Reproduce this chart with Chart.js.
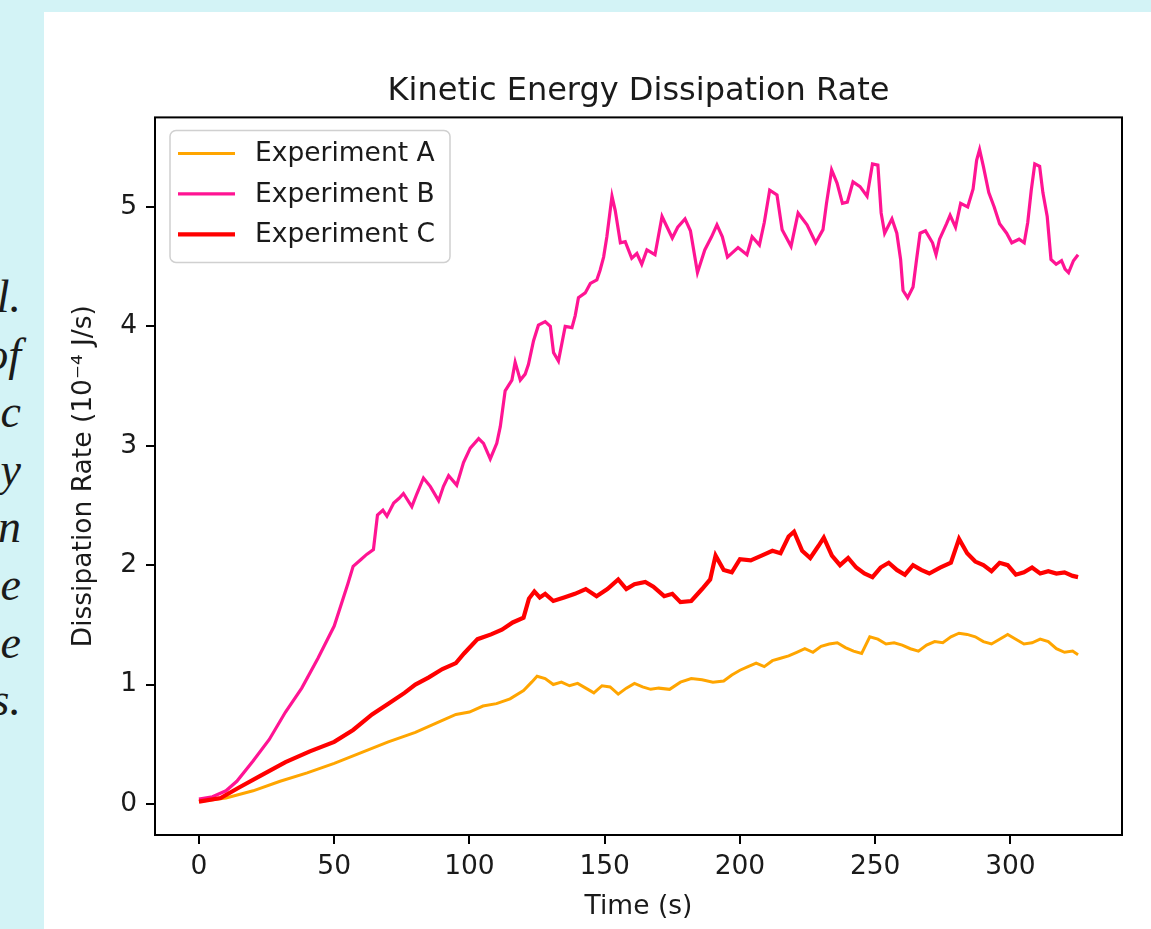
<!DOCTYPE html>
<html>
<head>
<meta charset="utf-8">
<script src="https://cdn.jsdelivr.net/npm/chart.js@4.4.0/dist/chart.umd.min.js"></script>
<style>
  html, body { margin: 0; padding: 0; width: 1151px; height: 929px; overflow: hidden; background: #d3f3f6; }
  #caption {
    position: absolute; right: 1130px; top: 268px; width: 420px;
    text-align: right; white-space: nowrap; color: #1a1a1a;
    font: italic 46px/57.6px "Liberation Serif", serif;
  }
  #panel { position: absolute; left: 44px; top: 12px; right: 0; bottom: 0; background: #fff; }
  #rateChart { position: absolute; left: 0; top: 0; }
</style>
</head>
<body>
<div id="caption">
  <div>et al.</div>
  <div>of</div>
  <div>dynamic</div>
  <div>energy</div>
  <div>dissipation</div>
  <div>the</div>
  <div>three</div>
  <div>experiments.</div>
</div>
<div id="panel"></div>
<canvas id="rateChart" width="1151" height="929"></canvas>

<script>
// === DATA ===
const labels = ["Experiment A", "Experiment B", "Experiment C"];

const timeA = [0, 10, 20, 30, 40, 50, 60, 70, 80, 90, 95, 100, 105, 110, 115, 120, 123, 125, 128, 131,
  134, 137, 140, 143, 146, 149, 152, 155, 158, 161, 164, 167, 170, 174, 178, 182, 186, 190, 194, 197,
  200, 203, 206, 209, 212, 215, 218, 221, 224, 227, 230, 233, 236, 239, 242, 245, 248, 251, 254, 257,
  260, 263, 266, 269, 272, 275, 278, 281, 284, 287, 290, 293, 296, 299, 302, 305, 308, 311, 314, 317,
  320, 323, 325];
const rateA = [0.02, 0.05, 0.11, 0.19, 0.26, 0.34, 0.43, 0.52, 0.60, 0.70, 0.75, 0.77, 0.82, 0.84, 0.88, 0.95, 1.02, 1.07, 1.05, 1.00,
  1.02, 0.99, 1.01, 0.97, 0.93, 0.99, 0.98, 0.92, 0.97, 1.01, 0.98, 0.96, 0.97, 0.96, 1.02, 1.05, 1.04, 1.02, 1.03, 1.08,
  1.12, 1.15, 1.18, 1.15, 1.20, 1.22, 1.24, 1.27, 1.30, 1.27, 1.32, 1.34, 1.35, 1.31, 1.28, 1.26, 1.40, 1.38, 1.34, 1.35,
  1.33, 1.30, 1.28, 1.33, 1.36, 1.35, 1.40, 1.43, 1.42, 1.40, 1.36, 1.34, 1.38, 1.42, 1.38, 1.34, 1.35, 1.38, 1.36, 1.30,
  1.27, 1.28, 1.25];

const timeB = [0, 5, 10, 14, 20, 26, 32, 38, 44, 50, 53, 55, 57, 60, 62, 64.5, 66, 68, 69.5, 72,
  74, 75.6, 78.7, 80.6, 83, 85.5, 88.6, 90.4, 92.3, 95.3, 97.8, 100.3, 103.4, 105.2, 107.7, 110.1, 111.4, 113.2, 115.7, 116.9,
  118.8, 120.6, 121.8, 123.7, 125.5, 128, 129.9, 131.1, 132.9, 135.4, 137.9, 139.1, 140.3, 142.8, 144.7, 147.1, 148.3, 149.6, 150.8, 152.7,
  153.9, 155.8, 157.6, 160, 161.9, 163.7, 165.6, 168.6, 171.2, 175, 177, 179.7, 181.7, 184.3, 187, 189.5, 191.5, 193.5, 195.4, 199.3,
  202.6, 204.5, 207.2, 209, 211, 213.7, 215.6, 218.9, 221.5, 224.8, 228, 230.7, 232, 233.9, 235.9, 237.9, 239.7, 241.8, 244.4, 247,
  249, 251, 252.2, 253.5, 256.2, 258, 259.4, 260.3, 262, 264, 265.3, 266.6, 268.6, 271.2, 272.5, 273.8, 276.4, 277.7, 279.7, 281.6,
  284.2, 286.2, 287.5, 288.6, 290, 292, 294, 296, 298.6, 300.5, 303.2, 305.1, 306.4, 307.7, 309, 310.8, 312, 313.6, 315, 316.9,
  318.9, 320.2, 321.5, 323.3, 325];
const rateB = [0.04, 0.06, 0.11, 0.19, 0.36, 0.54, 0.77, 0.97, 1.22, 1.49, 1.70, 1.84, 1.99, 2.05, 2.09, 2.13, 2.42, 2.46, 2.41, 2.52,
  2.56, 2.60, 2.49, 2.60, 2.73, 2.66, 2.54, 2.66, 2.75, 2.67, 2.86, 2.98, 3.06, 3.02, 2.89, 3.02, 3.16, 3.46, 3.55, 3.70,
  3.55, 3.60, 3.68, 3.88, 4.01, 4.04, 4.00, 3.78, 3.71, 4.00, 3.99, 4.09, 4.24, 4.28, 4.36, 4.39, 4.47, 4.58, 4.75, 5.09,
  4.97, 4.70, 4.71, 4.57, 4.61, 4.52, 4.64, 4.60, 4.92, 4.74, 4.83, 4.90, 4.80, 4.45, 4.64, 4.75, 4.85, 4.75, 4.58, 4.66,
  4.60, 4.75, 4.68, 4.87, 5.14, 5.10, 4.81, 4.67, 4.95, 4.85, 4.70, 4.81, 5.03, 5.31, 5.20, 5.03, 5.04, 5.21, 5.17, 5.09,
  5.36, 5.35, 4.95, 4.78, 4.90, 4.78, 4.56, 4.30, 4.24, 4.33, 4.56, 4.78, 4.80, 4.70, 4.60, 4.73, 4.86, 4.93, 4.83, 5.03,
  5.00, 5.15, 5.39, 5.48, 5.34, 5.12, 5.00, 4.86, 4.78, 4.70, 4.73, 4.70, 4.87, 5.14, 5.36, 5.34, 5.12, 4.92, 4.56, 4.52,
  4.55, 4.48, 4.45, 4.55, 4.60];

const timeC = [0, 8, 15, 23, 32, 41, 50, 57, 64, 70, 76, 80, 85, 90, 95, 98, 103, 108, 112, 116,
  120, 122, 124, 126, 128, 131, 135, 139, 143, 147, 151, 155, 158, 161, 165, 168, 172, 175, 178, 182,
  186, 189, 191, 194, 197, 200, 204, 208, 212, 215, 218, 220, 223, 226, 229, 231, 234, 237, 240, 243,
  246, 249, 252, 255, 258, 261, 264, 267, 270, 274, 278, 281, 284, 287, 290, 293, 296, 299, 302, 305,
  308, 311, 314, 317, 320, 323, 325];
const rateC = [0.02, 0.05, 0.14, 0.24, 0.35, 0.44, 0.52, 0.62, 0.75, 0.84, 0.93, 1.00, 1.06, 1.13, 1.18, 1.26, 1.38, 1.42, 1.46, 1.52,
  1.56, 1.72, 1.78, 1.73, 1.76, 1.70, 1.73, 1.76, 1.80, 1.74, 1.80, 1.88, 1.80, 1.84, 1.86, 1.82, 1.74, 1.76, 1.69, 1.70,
  1.80, 1.88, 2.08, 1.96, 1.94, 2.05, 2.04, 2.08, 2.12, 2.10, 2.24, 2.28, 2.12, 2.06, 2.16, 2.23, 2.08, 2.00, 2.06, 1.98,
  1.93, 1.90, 1.98, 2.02, 1.96, 1.92, 2.00, 1.96, 1.93, 1.98, 2.02, 2.22, 2.10, 2.03, 2.00, 1.95, 2.02, 2.00, 1.92, 1.94,
  1.98, 1.93, 1.95, 1.93, 1.94, 1.91, 1.90];

const xTickStep = 50;
const yTickStep = 1;

// === HELPERS ===
const toPoints = (t, v) => t.map((x, i) => ({ x: x, y: v[i] }));

Chart.defaults.font.family = "'DejaVu Sans', sans-serif";
Chart.defaults.color = "#1a1a1a";

// frame round the plot area (matplotlib spines)
const frameBox = {
  id: "frameBox",
  afterDatasetsDraw(chart) {
    const { ctx, chartArea: a } = chart;
    ctx.save();
    ctx.strokeStyle = "#000";
    ctx.lineWidth = 2;
    ctx.strokeRect(a.left, a.top, a.right - a.left, a.bottom - a.top);
    ctx.restore();
  },
};

// legend drawn inside the upper left corner
const insideLegend = {
  id: "insideLegend",
  afterDraw(chart) {
    const { ctx, chartArea: a } = chart;
    const x = a.left + 15, y = a.top + 13, w = 280, h = 132;
    ctx.save();
    ctx.beginPath();
    ctx.roundRect(x, y, w, h, 6);
    ctx.fillStyle = "rgba(255,255,255,0.8)";
    ctx.fill();
    ctx.strokeStyle = "#d0d0d0";
    ctx.lineWidth = 1.5;
    ctx.stroke();
    ctx.font = "26.5px 'DejaVu Sans'";
    ctx.textBaseline = "middle";
    chart.data.datasets.forEach((ds, i) => {
      const ly = y + 23 + i * 40.5;
      ctx.beginPath();
      ctx.moveTo(x + 8, ly);
      ctx.lineTo(x + 65, ly);
      ctx.strokeStyle = ds.borderColor;
      ctx.lineWidth = ds.borderWidth;
      ctx.stroke();
      ctx.fillStyle = "#1a1a1a";
      ctx.fillText(ds.label, x + 85, ly + 1);
    });
    ctx.restore();
  },
};

// === CHART ===
const ctx = document.getElementById("rateChart").getContext("2d");

new Chart(ctx, {
  type: "line",
  data: {
    datasets: [
      { label: labels[0], data: toPoints(timeA, rateA), borderColor: "#ffa500", borderWidth: 3, order: 3 },
      { label: labels[1], data: toPoints(timeB, rateB), borderColor: "#ff1493", borderWidth: 3.2, order: 2 },
      { label: labels[2], data: toPoints(timeC, rateC), borderColor: "#ff0000", borderWidth: 4.2, order: 1 },
    ],
  },
  options: {
    responsive: false,
    animation: false,
    devicePixelRatio: 1,
    elements: { point: { radius: 0 }, line: { tension: 0, fill: false } },
    layout: { padding: { left: 0, right: 29, top: 0, bottom: 0 } },
    plugins: {
      legend: { display: false },
      tooltip: { enabled: false },
      title: {
        display: true,
        text: "Kinetic Energy Dissipation Rate",
        fullSize: false,
        color: "#1a1a1a",
        font: { size: 32, weight: "normal" },
        padding: { top: 72, bottom: 7 },
      },
    },
    scales: {
      x: {
        type: "linear",
        min: -16.25,
        max: 341.25,
        border: { display: false },
        grid: { drawOnChartArea: false, drawTicks: true, tickLength: 9, color: "#000", lineWidth: 2 },
        ticks: { stepSize: xTickStep, includeBounds: false, padding: 7, maxRotation: 0, font: { size: 26.5 } },
        title: { display: true, text: "Time (s)", font: { size: 26.5 }, padding: { top: 0, bottom: 6 } },
        afterFit(scale) { scale.height = 94; },
      },
      y: {
        type: "linear",
        min: -0.26,
        max: 5.75,
        border: { display: false },
        grid: { drawOnChartArea: false, drawTicks: true, tickLength: 9, color: "#000", lineWidth: 2 },
        ticks: { stepSize: yTickStep, includeBounds: false, padding: 9, font: { size: 26.5 } },
        title: { display: true, text: "Dissipation Rate (10\u207B\u2074 J/s)", font: { size: 26.5 }, padding: { top: 68, bottom: 0 } },
        afterFit(scale) { scale.width = 155; },
      },
    },
  },
  plugins: [frameBox, insideLegend],
});
</script>
</body>
</html>
